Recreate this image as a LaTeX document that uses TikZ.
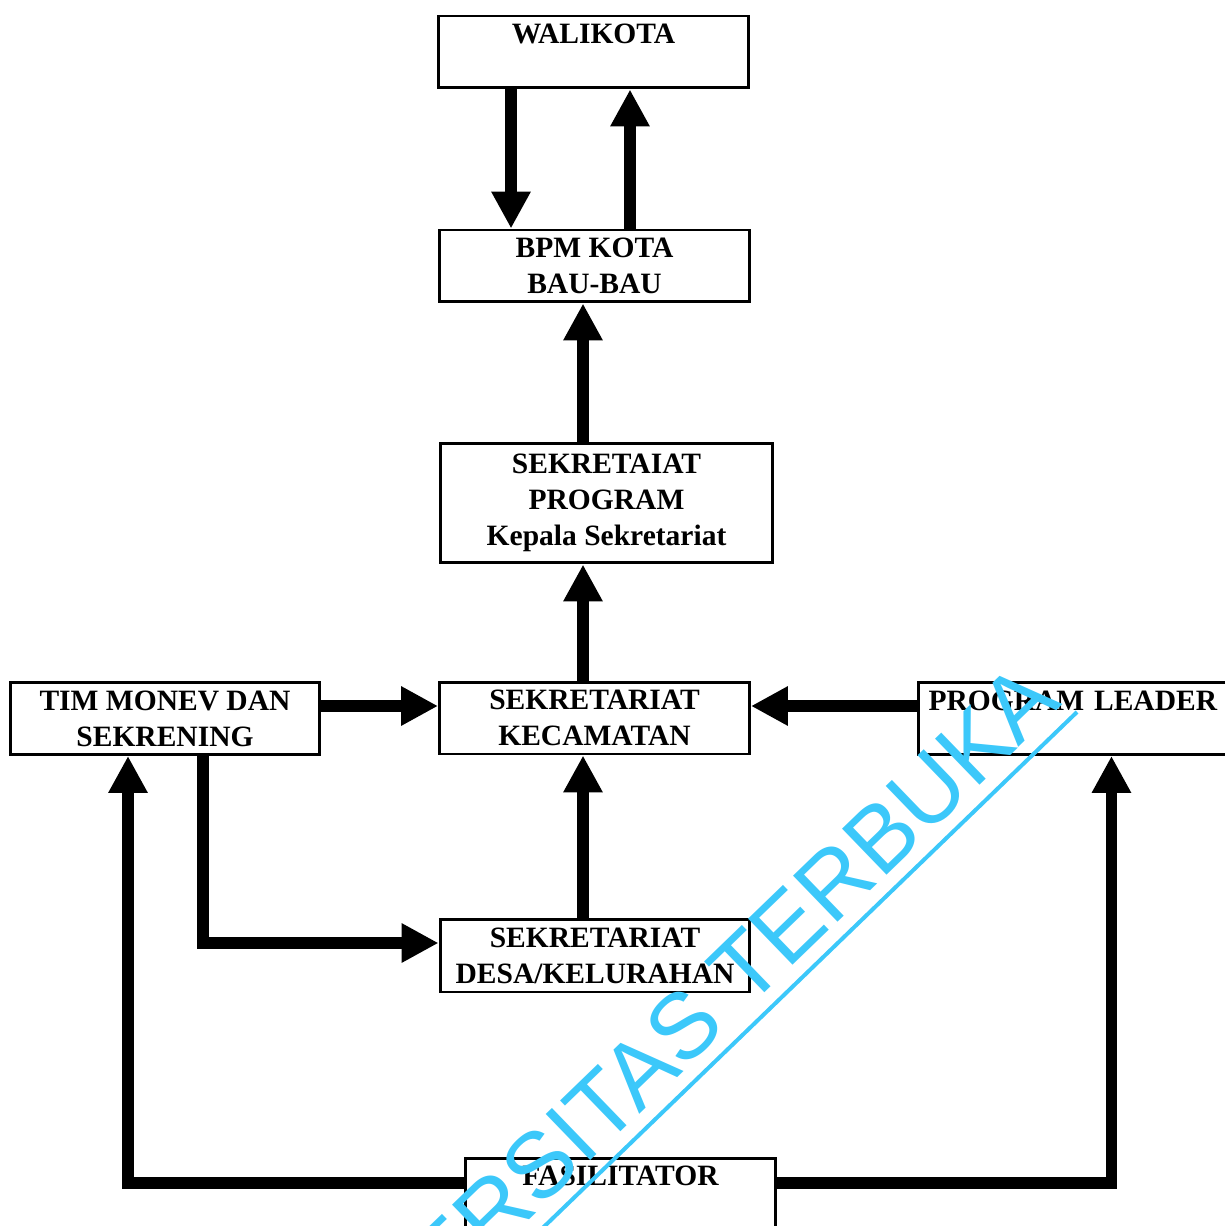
\documentclass[tikz,border=0pt]{standalone}
\usepackage{fontspec}
\setmainfont{Liberation Serif}
\newfontfamily\wmfont{Liberation Sans}
\usepackage{tikz}
\usetikzlibrary{arrows.meta}
\definecolor{wmcyan}{RGB}{60,200,250}

\begin{document}
\begin{tikzpicture}[
            x = 0.02cm, y = -0.02cm, % one unit = one pixel, y downwards
            kotak/.style = {draw, line width=1.7pt, inner sep=0pt,
                minimum width=6.2cm, minimum height=1.44cm, align=center,
                font=\fontsize{16.8}{20.5}\selectfont\bfseries}, % boxes
            panah/.style = {line width=6.8pt, line join=miter,
                -{Triangle[length=0.74cm, width=0.74cm]}} % thick arrows
        ]

	\useasboundingbox (0,0) rectangle (1224,1226);

	\node[kotak] (wali) at (593.5,52) {WALIKOTA\\ \phantom{W}};
	\node[kotak] (bpm) at (594.5,266) {BPM KOTA\\ BAU-BAU};
	\node[kotak, minimum width=6.66cm, minimum height=2.4cm] (sprog) at (606.5,503)
		{SEKRETAIAT\\ PROGRAM\\ Kepala Sekretariat};
	\node[kotak] (kec) at (594.5,718) {SEKRETARIAT\\ KECAMATAN};
	\node[kotak] (tim) at (165,718.5) {TIM MONEV DAN\\ SEKRENING};
	\node[kotak, anchor=west, text width=6.46cm, inner xsep=0.2cm, align=left] (lead)
		at (917,718.5) {PROGRAM LEADER\\ \phantom{W}};
	\node[kotak, minimum height=1.46cm] (desa) at (595,955.5) {SEKRETARIAT\\ DESA/KELURAHAN};
	\node[kotak, minimum width=6.22cm] (fas) at (620.5,1194) {FASILITATOR\\ \phantom{W}};

	\coordinate (tengah) at (583,0);
	\coordinate (baris) at (0,706);

	\draw[panah] ([xshift=-1.65cm]wali.south) -- ([xshift=-1.65cm]wali.south |- bpm.north);
	\draw[panah] ([xshift=0.71cm]bpm.north) -- ([xshift=0.71cm]bpm.north |- wali.south);
	\draw[panah] (tengah |- sprog.north) -- (tengah |- bpm.south);
	\draw[panah] (tengah |- kec.north) -- (tengah |- sprog.south);
	\draw[panah] (tengah |- desa.north) -- (tengah |- kec.south);
	\draw[panah] (baris -| tim.east) -- (baris -| kec.west);
	\draw[panah] (baris -| lead.west) -- (baris -| kec.east);
	\draw[panah] ([xshift=0.76cm]tim.south) |- ([yshift=0.25cm]desa.west);
	\draw[panah] ([yshift=0.22cm]fas.west) -| ([xshift=-0.74cm]tim.south);
	\draw[panah] ([yshift=0.22cm]fas.east) -| ([xshift=0.43cm]lead.south);

	% watermark
	\begin{scope}[shift={(1077,712)}, rotate=44]
		\clip[rotate=-44] (-1077,-712) rectangle (147,514);
		\node[anchor=base east, transform shape, inner sep=0pt, text=wmcyan,
			font=\wmfont\fontsize{53}{54}\selectfont] (wm) at (-4,-15) {UNIVERSITAS TERBUKA};
		\draw[wmcyan, line width=0.08cm] (-1300,0) -- (0,0);
	\end{scope}

\end{tikzpicture}
\end{document}
